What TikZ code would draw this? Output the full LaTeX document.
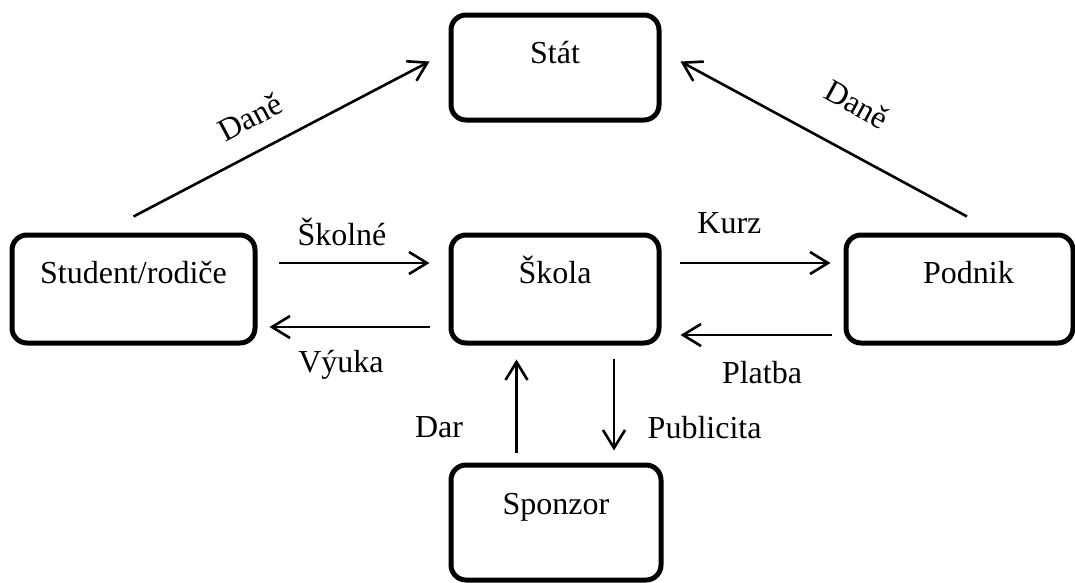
\documentclass[tikz,border=0pt]{standalone}
\usepackage{fontspec}
\setmainfont{Liberation Serif}
\usetikzlibrary{arrows.meta}
\begin{document}
\begin{tikzpicture}[x=1pt,y=-1pt,
  every node/.style={font=\fontsize{32}{38}\selectfont},
  box/.style={draw, line width=5pt, rounded corners=15pt, inner sep=0pt, text height=48pt},
  arr/.style={line width=2.6pt, -{Straight Barb[length=18pt,width=22pt]}},
  lbl/.style={inner sep=0pt}]
\useasboundingbox (0,0) rectangle (1075,582);
% boxes
\node[box, minimum width=208pt, minimum height=105pt, text depth=57pt] (stat) at (555,67.5) {Stát};
\node[box, minimum width=243pt, minimum height=108pt, text depth=60pt] (stud) at (133.5,289) {Student/rodiče};
\node[box, minimum width=208pt, minimum height=108pt, text depth=60pt] (skola) at (555,289) {Škola};
\node[box, minimum width=227pt, minimum height=108pt, text depth=60pt] (podnik) at (959.5,289) {\hspace*{18pt}Podnik};
\node[box, minimum width=210pt, minimum height=115pt, text depth=64pt] (sponzor) at (556,522.5) {Sponzor};
% connectors
\draw[arr] ([yshift=16pt]stud.north) -- ([xshift=-19pt,yshift=6pt]stat.west);
\draw[arr] ([xshift=7.5pt,yshift=16pt]podnik.north) -- ([xshift=19pt,yshift=6pt]stat.east);
\draw[arr] ([xshift=21.5pt,yshift=26pt]stud.east) -- ([xshift=-19pt,yshift=26pt]skola.west);
\draw[arr] ([xshift=-19pt,yshift=-38pt]skola.west) -- ([xshift=12pt,yshift=-38pt]stud.east);
\draw[arr] ([xshift=18pt,yshift=26pt]skola.east) -- ([xshift=-13pt,yshift=26pt]podnik.west);
\draw[arr] ([xshift=-12pt,yshift=-46pt]podnik.west) -- ([xshift=19pt,yshift=-46pt]skola.east);
\draw[arr] ([xshift=-39.5pt,yshift=10pt]sponzor.north) -- ([xshift=-38.5pt,yshift=-14pt]skola.south);
\draw[arr] ([xshift=59pt,yshift=-13pt]skola.south) -- ([xshift=58pt,yshift=12pt]sponzor.north);
% labels
\node[lbl, rotate=28] (l1) at (250,117) {Daně};
\node[lbl, rotate=-28.6] (l2) at (857,104) {Daně};
\node[lbl] (l3) at (342,232) {Školné};
\node[lbl] (l4) at (729.4,223) {Kurz};
\node[lbl] (l5) at (341,365) {Výuka};
\node[lbl] (l6) at (762,373) {Platba};
\node[lbl] (l7) at (439,427) {Dar};
\node[lbl] (l8) at (704.6,428) {Publicita};
\end{tikzpicture}
\end{document}
